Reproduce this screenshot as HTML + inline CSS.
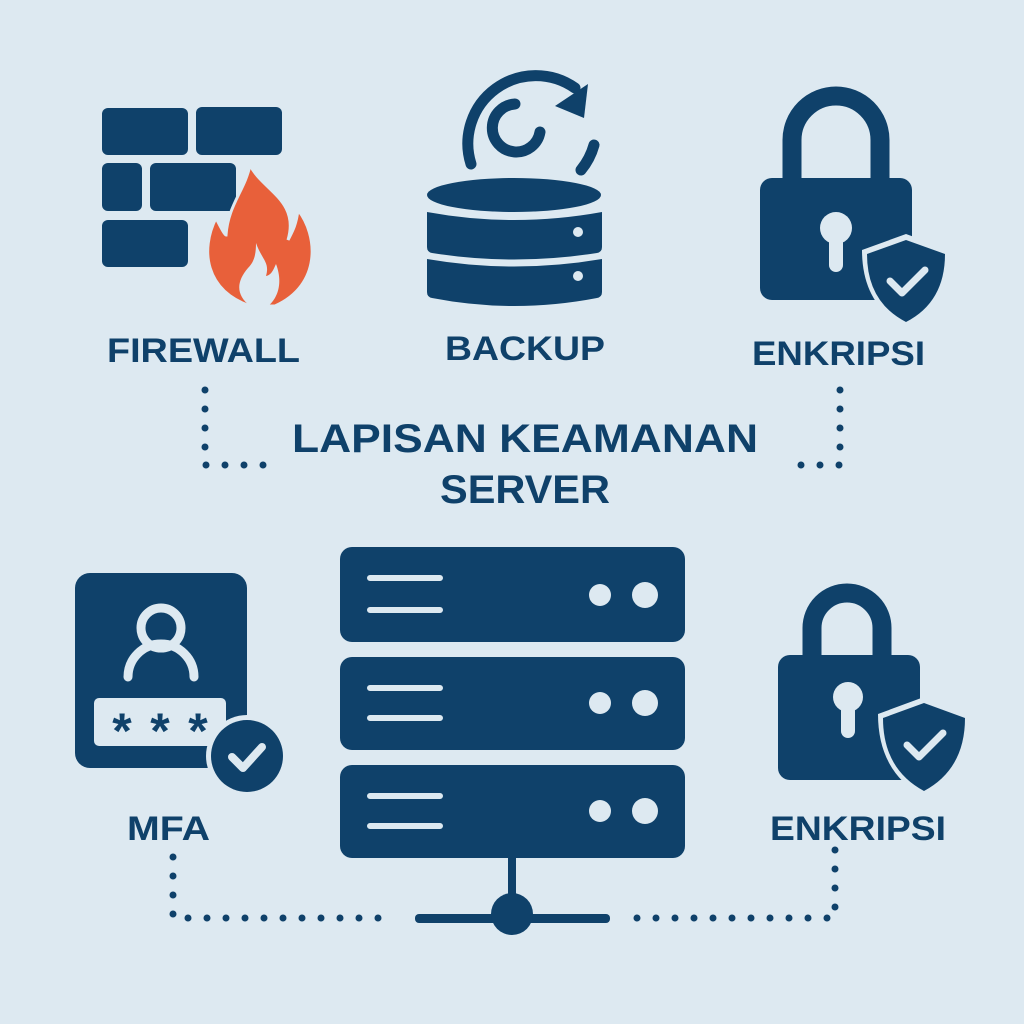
<!DOCTYPE html>
<html><head><meta charset="utf-8"><style>
html,body{margin:0;padding:0;background:#dde9f1;}
svg{display:block}
text{font-family:"Liberation Sans",sans-serif;font-weight:bold;fill:#0f416a;}
</style></head><body>
<svg width="1024" height="1024" viewBox="0 0 1024 1024">
<rect width="1024" height="1024" fill="#dde9f1"/>
<g fill="#0f416a">
 <rect x="102" y="108" width="86" height="47" rx="6"/>
 <rect x="196" y="107" width="86" height="48" rx="6"/>
 <rect x="102" y="163" width="40" height="48" rx="6"/>
 <rect x="150" y="163" width="86" height="48" rx="6"/>
 <rect x="102" y="220" width="86" height="47" rx="6"/>
</g>
<path d="M250 165 C262 190 300 200 288 240 C292 232 296 226 298 210 C318 235 322 285 275 306 L250 306 C205 290 200 250 216 218 C222 230 225 235 226 235 C228 205 245 190 250 165 Z" fill="#e8603a" stroke="#dde9f1" stroke-width="3"/>
<path d="M256 243 C262 260 270 262 266 276 C272 275 274 268 276 264 C284 285 276 300 268 306 L250 306 C236 295 236 282 248 268 C254 262 256 255 256 243 Z" fill="#dde9f1"/>

<!-- backup -->
<g fill="none" stroke="#0f416a" stroke-width="11" stroke-linecap="round">
 <path d="M471 164 A68 68 0 0 1 575 88"/>
 <path d="M594 145 A68 68 0 0 1 581 170"/>
 <path d="M515 104 A24 24 0 1 0 540 132"/>
</g>
<path d="M588 84 L584 118 L555 106 Z" fill="#0f416a"/>
<g fill="#0f416a">
 <ellipse cx="514" cy="195" rx="87" ry="17"/>
 <path d="M427 212 Q514 228 602 212 L602 247 Q602 252 597 253 Q514 266 432 253 Q427 252 427 247 Z"/>
 <path d="M427 259 Q514 274 602 259 L602 292 Q602 297 597 298 Q514 314 432 298 Q427 297 427 292 Z"/>
</g>
<circle cx="578" cy="232" r="5" fill="#dde9f1"/>
<circle cx="578" cy="276" r="5" fill="#dde9f1"/>

<!-- lock top -->
<g>
 <path d="M792 178 V140 A44 44 0 0 1 880 140 V178" fill="none" stroke="#0f416a" stroke-width="19"/>
 <rect x="760" y="178" width="152" height="122" rx="12" fill="#0f416a"/>
 <circle cx="836" cy="228" r="16" fill="#dde9f1"/>
 <rect x="829" y="232" width="14" height="40" rx="7" fill="#dde9f1"/>
 <path d="M906 234 L950 250 Q950 305 906 328 Q862 305 862 250 Z" fill="#dde9f1"/>
 <path d="M906 240 L945 254 Q945 302 906 322 Q867 302 867 254 Z" fill="#0f416a"/>
 <path d="M890 281 L902 293 L925 270" fill="none" stroke="#dde9f1" stroke-width="7" stroke-linecap="round" stroke-linejoin="round"/>
</g>

<text x="107" y="362" font-size="34" textLength="193" lengthAdjust="spacingAndGlyphs">FIREWALL</text>
<text x="445" y="360" font-size="34" textLength="160" lengthAdjust="spacingAndGlyphs">BACKUP</text>
<text x="752" y="365" font-size="34" textLength="173" lengthAdjust="spacingAndGlyphs">ENKRIPSI</text>
<text x="292" y="452" font-size="40" textLength="466" lengthAdjust="spacingAndGlyphs">LAPISAN KEAMANAN</text>
<text x="440" y="503" font-size="40" textLength="170" lengthAdjust="spacingAndGlyphs">SERVER</text>

<g stroke="#0f416a" stroke-width="7" stroke-linecap="round" stroke-dasharray="0 19" fill="none">
 <path d="M205 390 V465 H265"/>
 <path d="M840 390 V465 H782"/>
 <path d="M173 857 V918 H392"/>
 <path d="M835 850 V918 H630"/>
</g>

<!-- MFA -->
<rect x="75" y="573" width="172" height="195" rx="15" fill="#0f416a"/>
<circle cx="161" cy="628" r="20" fill="none" stroke="#dde9f1" stroke-width="9"/>
<path d="M128 677 A33 33 0 0 1 194 677" fill="none" stroke="#dde9f1" stroke-width="9" stroke-linecap="round"/>
<rect x="94" y="698" width="132" height="48" rx="5" fill="#dde9f1"/>
<text x="122" y="748" font-size="50" text-anchor="middle">*</text>
<text x="160" y="748" font-size="50" text-anchor="middle">*</text>
<text x="198" y="748" font-size="50" text-anchor="middle">*</text>
<circle cx="247" cy="756" r="41" fill="#dde9f1"/>
<circle cx="247" cy="756" r="36" fill="#0f416a"/>
<path d="M232 757 L243 768 L262 747" fill="none" stroke="#dde9f1" stroke-width="8" stroke-linecap="round" stroke-linejoin="round"/>
<text x="127" y="840" font-size="34" textLength="83" lengthAdjust="spacingAndGlyphs">MFA</text>

<!-- server -->
<g fill="#0f416a">
 <rect x="340" y="547" width="345" height="95" rx="12"/>
 <rect x="340" y="657" width="345" height="93" rx="12"/>
 <rect x="340" y="765" width="345" height="93" rx="12"/>
 <rect x="508" y="858" width="8" height="50"/>
 <rect x="415" y="914" width="195" height="9" rx="4"/>
 <circle cx="512" cy="914" r="21"/>
</g>
<g stroke="#dde9f1" stroke-width="6" stroke-linecap="round">
 <path d="M370 578 H440 M370 610 H440"/>
 <path d="M370 688 H440 M370 718 H440"/>
 <path d="M370 796 H440 M370 826 H440"/>
</g>
<g fill="#dde9f1">
 <circle cx="600" cy="595" r="11"/><circle cx="645" cy="595" r="13"/>
 <circle cx="600" cy="703" r="11"/><circle cx="645" cy="703" r="13"/>
 <circle cx="600" cy="811" r="11"/><circle cx="645" cy="811" r="13"/>
</g>

<!-- lock bottom -->
<g>
 <path d="M812 655 V628 A35 35 0 0 1 882 628 V655" fill="none" stroke="#0f416a" stroke-width="19"/>
 <rect x="778" y="655" width="142" height="125" rx="12" fill="#0f416a"/>
 <circle cx="848" cy="697" r="15" fill="#dde9f1"/>
 <rect x="841" y="700" width="14" height="38" rx="7" fill="#dde9f1"/>
 <path d="M924 697 L970 714 Q970 772 924 797 Q878 772 878 714 Z" fill="#dde9f1"/>
 <path d="M924 703 L965 718 Q965 769 924 791 Q883 769 883 718 Z" fill="#0f416a"/>
 <path d="M907 745 L919 757 L943 733" fill="none" stroke="#dde9f1" stroke-width="7" stroke-linecap="round" stroke-linejoin="round"/>
</g>
<text x="770" y="840" font-size="34" textLength="176" lengthAdjust="spacingAndGlyphs">ENKRIPSI</text>
</svg>
</body></html>
